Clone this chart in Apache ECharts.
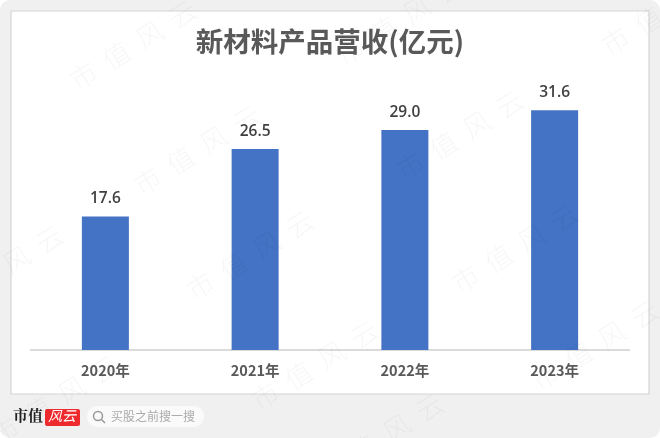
<!DOCTYPE html>
<html><head><meta charset="utf-8">
<style>html,body{margin:0;padding:0;background:#fff}#c{width:660px;height:438px}</style>
<script src="https://cdn.jsdelivr.net/npm/echarts@6/dist/echarts.min.js"></script>
</head><body><div id="c"></div>
<script>
const categories = ['2020年','2021年','2022年','2023年'];
const revenue = [17.6,26.5,29.0,31.6];
const titleText = '新材料产品营收(亿元)';
const watermarkCenters = [[133,45],[197,150],[400,20],[460,135],[665,10],[515,248],[595,345],[0,270],[250,255],[315,365],[55,400],[380,438]];
const font = '"Noto Sans CJK SC","Noto Sans",sans-serif';
const chart = echarts.init(document.getElementById('c'),null,{renderer:'canvas'});
const g = [
 {type:'rect',z:-11,shape:{x:0,y:0,width:660,height:438,r:10},style:{fill:'#f0f0f0'}},
 {type:'rect',z:-10,shape:{x:11,y:11,width:638,height:383},style:{fill:'#fff',stroke:'#d4d4d4',lineWidth:1.2}},
 {type:'text',z:5,x:13,y:408,style:{text:'市值',font:'bold 15px "Noto Serif CJK SC","Noto Sans CJK SC",serif',fill:'#222'}},
 {type:'rect',z:5,shape:{x:45,y:409,width:35,height:17,r:2},style:{fill:'#ee2a2e'}},
 {type:'text',z:6,x:48,y:409,style:{text:'风云',font:'italic 14px "Noto Sans CJK SC"',fill:'#fff'}},
 {type:'rect',z:5,shape:{x:87,y:406,width:117,height:21,r:10},style:{fill:'#fafafa'}},
 {type:'circle',z:6,shape:{cx:98,cy:416,r:4.5},style:{fill:'none',stroke:'#999',lineWidth:1.5}},
 {type:'line',z:6,shape:{x1:101.5,y1:419.5,x2:105,y2:423},style:{stroke:'#999',lineWidth:1.5}},
 {type:'text',z:6,x:111,y:410,style:{text:'买股之前搜一搜',font:'12px "Noto Sans CJK SC"',fill:'#aaa'}}
];
watermarkCenters.forEach(([x,y])=>g.push({type:'text',z:20,silent:true,x,y,rotation:Math.PI*32/180,
  style:{text:'市  值  风  云',font:'300 27px "Noto Sans CJK SC"',fill:'rgba(0,0,0,0.035)',align:'center',verticalAlign:'middle'}}));
chart.setOption({
 animation:false,
 backgroundColor:'transparent',
 title:{text:titleText,left:'center',top:23,textStyle:{fontFamily:font,fontSize:27.5,fontWeight:700,color:'#595959'}},
 grid:{left:30.5,right:30.5,top:46.5,bottom:88},
 xAxis:{type:'category',data:categories,axisLine:{lineStyle:{color:'#d0d0d0',width:1.5}},axisTick:{show:false},
   axisLabel:{fontFamily:font,fontSize:14.5,fontWeight:600,color:'#595959',margin:13}},
 yAxis:{type:'value',min:0,max:40,interval:10,show:false,splitLine:{show:false}},
 series:[{type:'bar',data:revenue,barWidth:47,itemStyle:{color:'#4472c4'},
   label:{show:true,position:'top',distance:10,formatter:p=>p.value.toFixed(1),fontFamily:'"Open Sans",'+font,fontSize:15.5,fontWeight:600,color:'#404040'}}],
 graphic:g
});
</script></body></html>
